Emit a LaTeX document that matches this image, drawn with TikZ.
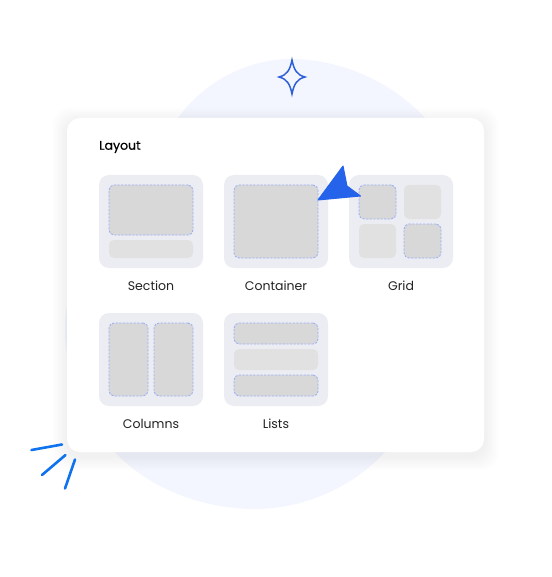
\documentclass[tikz,border=0pt]{standalone}
\usepackage{fontspec}
\setmainfont{Poppins}
\definecolor{blobfill}{HTML}{F3F6FE}
\definecolor{tilefill}{HTML}{ECEDF2}
\definecolor{slotdark}{HTML}{D8D8D8}
\definecolor{slotlight}{HTML}{E1E1E1}
\definecolor{slotedge}{HTML}{9DB0F5}
\definecolor{cursorblue}{HTML}{2563EB}
\definecolor{starblue}{HTML}{2F5FD8}
\definecolor{rayblue}{HTML}{0F72EE}
\definecolor{labeltext}{HTML}{222222}
\tikzset{
  card/.style = {draw=none, fill=white, rounded corners=13pt, inner sep=0pt,
    minimum width=417pt, minimum height=334pt},
  tile/.style = {draw=none, fill=tilefill, rounded corners=10pt, inner sep=0pt,
    minimum width=104pt, minimum height=93pt},
  slotfree/.style = {draw=none, fill=slotlight, rounded corners=5pt, inner sep=0pt},
  slotdash/.style = {draw=slotedge, fill=slotdark, rounded corners=5pt, inner sep=0pt,
    line width=0.9pt, dash pattern=on 2.2pt off 1.4pt},
  tilename/.style = {text=labeltext, font=\fontsize{12.5}{15}\selectfont, inner sep=0pt},
  ray/.style = {rayblue, line width=2.6pt, line cap=round}
}
\begin{document}
\begin{tikzpicture}[x=1pt, y=-1pt]
  \useasboundingbox (0,0) rectangle (551,577);
  % background blob
  \fill[blobfill] (290,59) .. controls (345,59) and (395,85) .. (425,118)
    .. controls (480,190) and (470,380) .. (385,452)
    .. controls (350,490) and (300,509) .. (255,509)
    .. controls (205,509) and (150,490) .. (115,452)
    .. controls (85,420) and (65,375) .. (65,330)
    .. controls (65,250) and (130,170) .. (178,118)
    .. controls (205,80) and (250,59) .. (290,59) -- cycle;
  % soft shadow of the card
  \foreach \s in {14,12,10,8,6,4,2}
    \fill[black, opacity=0.007, rounded corners=16pt]
      (67-\s,118-\s+4) rectangle (484+\s,452+\s+4);
  \node[card] (panel) at (275.5,285) {};
  \node[anchor=west, inner sep=0pt, font=\fontsize{12.5}{15}\selectfont\addfontfeature{FakeBold=0.5}] (title) at (99,147) {Layout};
  % tiles
  \node[tile] (section) at (151,221.5) {};
  \node[tile] (container) at (276,221.5) {};
  \node[tile] (grid) at (401,221.5) {};
  \node[tile] (columns) at (151,359.5) {};
  \node[tile] (lists) at (276,359.5) {};
  \node[tilename] (sectionname) at (151,285.5) {Section};
  \node[tilename] (containername) at (276,285.5) {Container};
  \node[tilename] (gridname) at (401,285.5) {Grid};
  \node[tilename] (columnsname) at (151,423.5) {Columns};
  \node[tilename] (listsname) at (276,423.5) {Lists};
  % slots inside the tiles: name/x/y/width/height
  \foreach \n/\x/\y/\w/\h in {a/151/210/84/50, b/276/221.5/84/73, c/377.5/202/37/34,
      d/422.5/241/37/34, e/128.5/359.5/39/73, f/173.5/359.5/39/73, g/276/333.5/84/21,
      h/276/385.5/84/21}
    \node[slotdash, minimum width=\w pt, minimum height=\h pt] (slot\n) at (\x,\y) {};
  \foreach \n/\x/\y/\w/\h in {a/151/249/84/18, b/422.5/202/37/34, c/377.5/241/37/34,
      d/276/359.5/84/21}
    \node[slotfree, minimum width=\w pt, minimum height=\h pt] (free\n) at (\x,\y) {};
  % cursor
  \fill[cursorblue, draw=cursorblue, line width=1pt, line join=round]
    (318,200) -- (343,166) -- (347,186) -- (360.5,196) -- cycle;
  % star
  \draw[starblue, line width=1.5pt, line join=miter, miter limit=20]
    (292,60) .. controls (294,70) and (297,75) .. (305,77)
    .. controls (297,79) and (294,84) .. (292,94)
    .. controls (290,84) and (287,79) .. (279,77)
    .. controls (287,75) and (290,70) .. (292,60) -- cycle;
  % rays
  \draw[ray] (31.5,450) -- (62,444.5);
  \draw[ray] (42,475) -- (65.5,455);
  \draw[ray] (65,488.5) -- (75,459.5);
\end{tikzpicture}
\end{document}
